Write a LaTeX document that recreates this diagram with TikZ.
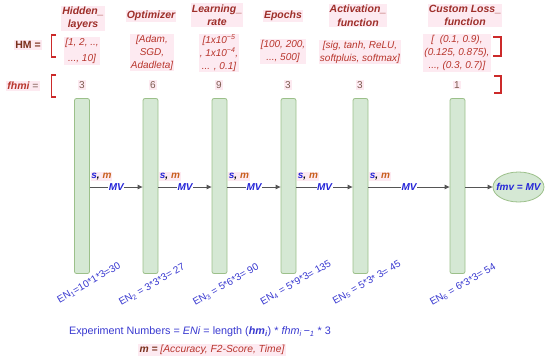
\documentclass[tikz,border=0pt]{standalone}
\usepackage{fontspec}
\setmainfont{Liberation Sans}
\usetikzlibrary{arrows.meta,calc,shapes.geometric}
\definecolor{hdrc}{HTML}{9E2F2A}
\definecolor{valc}{HTML}{B8352C}
\definecolor{numc}{HTML}{7F5A50}
\definecolor{pinkbg}{HTML}{FDEAF1}
\definecolor{barfill}{HTML}{D5E8D4}
\definecolor{barline}{HTML}{9CC08A}
\definecolor{arrc}{HTML}{555555}
\definecolor{bluec}{HTML}{2424D8}
\definecolor{enc}{HTML}{3838D0}
\definecolor{mc}{HTML}{C8601E}
\definecolor{brk}{HTML}{CC2A2A}
\definecolor{hmc}{HTML}{7A2E1A}
\begin{document}
\begin{tikzpicture}[x=1pt,y=-1pt,
  stepbar/.style={draw=barline, fill=barfill, rounded corners=2pt, minimum width=15pt, minimum height=175pt, inner sep=0pt, line width=0.8pt},
  hdr/.style={font=\fontsize{10.5}{13.5}\selectfont\bfseries\itshape, text=hdrc, fill=pinkbg, align=center, inner sep=1pt},
  val/.style={font=\fontsize{10}{13}\selectfont\itshape, text=valc, fill=pinkbg, align=center, inner sep=1pt},
  num/.style={font=\fontsize{10}{12}\selectfont, text=numc, fill=pinkbg, inner sep=1pt},
  arr/.style={-{Triangle[length=5pt,width=4.5pt]}, draw=arrc, line width=1pt},
  mvl/.style={font=\fontsize{10}{12}\selectfont\bfseries\itshape, text=bluec, fill=white, inner sep=0.5pt},
  sml/.style={font=\fontsize{10}{12}\selectfont\bfseries\itshape, fill=pinkbg, inner sep=0.8pt, anchor=south west},
  enl/.style={font=\fontsize{10}{12}\selectfont, text=enc, rotate=30, inner sep=0pt},
  brkt/.style={draw=brk, line width=1.4pt}
]
\useasboundingbox (0,0) rectangle (550,362);

% headers
\node[hdr] (h1) at (83,18.5) {Hidden\_\\layers};
\node[hdr] (h2) at (151,16) {Optimizer};
\node[hdr] (h3) at (217,15) {Learning\_\\rate};
\node[hdr] (h4) at (283,16) {Epochs};
\node[hdr] (h5) at (358,15.5) {Activation\_\\function};
\node[hdr] (h6) at (465,15.5) {Custom Loss\_\\function};

% HM row
\node[font=\fontsize{10.5}{12}\selectfont\bfseries, text=hmc, fill=pinkbg, inner sep=1pt] (hm) at (28,45) {HM =};
\draw[brkt] (56,35) -- (51.5,35) -- (51.5,57) -- (56,57);
\draw[brkt] (493,37) -- (501,37) -- (501,56) -- (493,56);
\node[val, font=\fontsize{10}{16}\selectfont\itshape] (v1) at (82,51) {[1, 2, ..,\\ ..., 10]};
\node[val] (v2) at (152,52.5) {[Adam,\\SGD,\\Adadleta]};
\node[val] (v3) at (219,53) {[1x10\textsuperscript{−5}\\, 1x10\textsuperscript{−4},\\... , 0.1]};
\node[val] (v4) at (283,51.5) {[100, 200,\\..., 500]};
\node[val] (v5) at (360,52) {[sig, tanh, ReLU,\\softpluis, softmax]};
\node[val] (v6) at (457,53) {[\ \ (0.1, 0.9),\\(0.125, 0.875),\\..., (0.3, 0.7)]};

% fhmi row
\node[font=\fontsize{10.5}{12}\selectfont, fill=pinkbg, inner sep=1pt] (fh) at (23,86) {\textcolor{valc}{\bfseries\itshape fhmi} \textcolor{numc}{=}};
\draw[brkt] (56,75) -- (51.5,75) -- (51.5,97) -- (56,97);
\draw[brkt] (494,76) -- (501,76) -- (501,93) -- (494,93);
\node[num] (n1) at (82,85) {3};
\node[num] (n2) at (153,85) {6};
\node[num] (n3) at (219,85) {9};
\node[num] (n4) at (288,85) {3};
\node[num] (n5) at (360,85) {3};
\node[num] (n6) at (457,85) {1};

% bars
\node[stepbar] (b1) at (82,186) {};
\node[stepbar] (b2) at (150.5,186) {};
\node[stepbar] (b3) at (219.5,186) {};
\node[stepbar] (b4) at (288.5,186) {};
\node[stepbar] (b5) at (360.5,186) {};
\node[stepbar] (b6) at (457.5,186) {};
\node[ellipse, draw=barline, fill=barfill, line width=0.8pt, minimum width=51pt, minimum height=30pt, inner xsep=-6pt, inner ysep=0pt, font=\fontsize{10}{12}\selectfont\bfseries\itshape, text=bluec] (fmv) at (518.5,187) {fmv = MV};

% arrows
\foreach \a/\b in {b1/b2,b2/b3,b3/b4,b4/b5,b5/b6}{
  \draw[arr] ($(\a.east)+(0,1)$) -- node[mvl]{MV} ($(\b.west)+(0,1)$);
  \node[sml] at ($(\a.east)+(0.5,-5)$) {\textcolor{bluec}{s}, \textcolor{mc}{m}};
}
\draw[arr] ($(b6.east)+(0,1)$) -- (fmv.west);

% experiment numbers
\node[enl] (e1) at (89,283) {EN\textsubscript{1}=10*1*3=30};
\node[enl] (e2) at (152,285) {EN\textsubscript{2} = 3*3*3= 27};
\node[enl] (e3) at (226,285) {EN\textsubscript{3} = 5*6*3= 90};
\node[enl] (e4) at (296,283) {EN\textsubscript{4} = 5*9*3= 135};
\node[enl] (e5) at (367,283) {EN\textsubscript{5} = 5*3* 3= 45};
\node[enl] (e6) at (463,285) {EN\textsubscript{6} = 6*3*3= 54};

% formulas
\node[font=\fontsize{10.8}{13}\selectfont, text=enc, inner sep=1pt] (form) at (200,332) {Experiment Numbers = \textit{ENi} = length (\textbf{\textit{hm}}\textsubscript{\textbf{\textit{i}}}) * \textit{fhm}\textsubscript{\textit{i}}\,\textit{−}\textsubscript{\textit{1}} * 3};
\node[font=\fontsize{10.3}{12}\selectfont\itshape, text=valc, fill=pinkbg, inner sep=1.5pt] (mdef) at (212,350) {\textbf{\textcolor{hmc}{m =}} [Accuracy, F2-Score, Time]};
\end{tikzpicture}
\end{document}
